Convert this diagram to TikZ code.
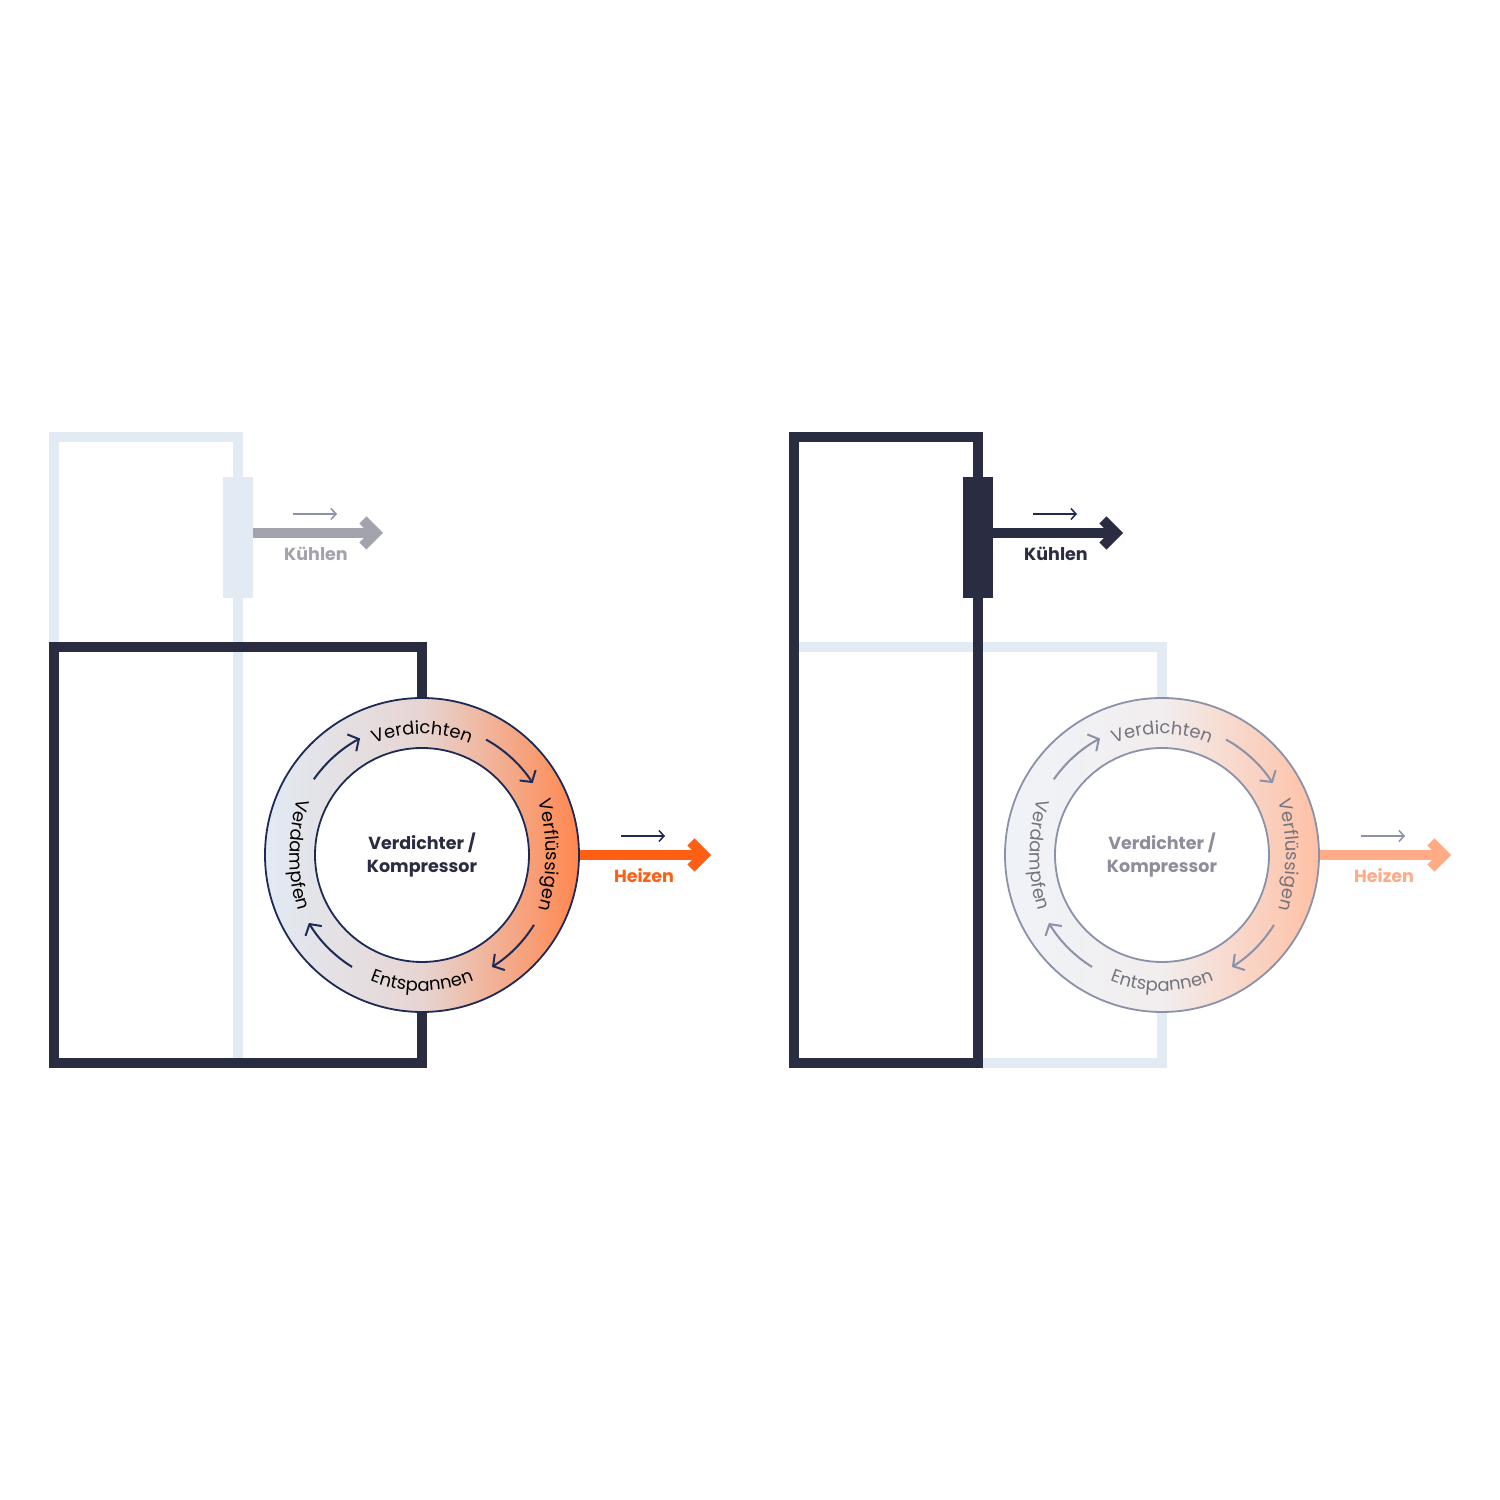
\documentclass[tikz,border=0pt]{standalone}
\usepackage{fontspec}
\setmainfont{Poppins}
\usepackage{xcolor}
\usetikzlibrary{arrows.meta}
\usetikzlibrary{decorations.text}

\definecolor{navy}{HTML}{2A2D42}
\definecolor{pale}{HTML}{E2EAF3}
\definecolor{ink}{HTML}{1E2A55}
\definecolor{heat}{HTML}{FF5F14}
\definecolor{heatpale}{HTML}{FFAB86}
\definecolor{coolgray}{HTML}{A3A3AE}
\definecolor{ashgray}{HTML}{8A91A8}
\definecolor{ashtext}{HTML}{74747F}
\definecolor{coretext}{HTML}{8E8E9A}

\newcommand{\ringfont}{\fontsize{18}{20}\selectfont}
\newcommand{\labelfont}{\fontsize{17.5}{23}\selectfont\bfseries}

\tikzset{
  pipe/.style={line width=10pt},
  hxbox/.style={rectangle, inner sep=0pt, minimum width=30pt, minimum height=121pt},
  ringbody/.style={circle, inner sep=0pt, minimum size=314pt, line width=1.8pt},
  core/.style={circle, inner sep=0pt, minimum size=214pt, fill=white, line width=1.8pt, font=\labelfont, align=center},
  bigarrow/.style={line width=10pt, -{Straight Barb[length=13pt,width=26pt,sharp]}},
  flow/.style={line width=1.5pt, -{Straight Barb[length=5pt,width=11pt]}},
  ringflow/.style={line width=2pt, -{Straight Barb[length=8pt,width=19pt]}},
  caption/.style={font=\labelfont},
}

\begin{document}
\begin{tikzpicture}[x=1pt, y=1pt]
    \fill[white] (0,0) rectangle (1500,1500);
    \useasboundingbox (0,0) rectangle (1500,1500);

    % heating mode
    \draw[pipe, pale] (54,437) rectangle (238,1063);
    \draw[pipe, navy] (54,437) rectangle (422,853);
    \node[hxbox, fill=pale] (hxA) at (238,962.5) {};

    \node[ringbody, draw=ink, left color=pale, right color=heat!75, middle color=heat!15!pale] (ringA) at (422,645) {};
    \node[core, draw=ink, text=navy] (coreA) at (ringA) {Verdichter /\\Kompressor};

    \path[decorate, decoration={text along path, text align=center, text color=black, text={|\ringfont|Verdichten}}]
        ([shift={(118:121)}]ringA.center) arc[start angle=118, end angle=62, radius=121];
    \path[decorate, decoration={text along path, text align=center, text color=black, text={|\ringfont|Verflüssigen}}]
        ([shift={(-76,0)}]ringA.center) ++(22:200) arc[start angle=22, end angle=-22, radius=200];
    \path[decorate, decoration={text along path, text align=center, text color=black, text={|\ringfont|Entspannen}}]
        ([shift={(235:136)}]ringA.center) arc[start angle=235, end angle=305, radius=136];
    \path[decorate, decoration={text along path, text align=center, text color=black, text={|\ringfont|Verdampfen}}]
        ([shift={(68,0)}]ringA.center) ++(158:200) arc[start angle=158, end angle=202, radius=200];

    \draw[ringflow, ink] ([shift={(145:132)}]ringA.center) arc[start angle=145, end angle=118, radius=132];
    \draw[ringflow, ink] ([shift={(61:132)}]ringA.center) arc[start angle=61, end angle=33, radius=132];
    \draw[ringflow, ink] ([shift={(-32:132)}]ringA.center) arc[start angle=-32, end angle=-58, radius=132];
    \draw[ringflow, ink] ([shift={(238:132)}]ringA.center) arc[start angle=238, end angle=211, radius=132];

    \coordinate (coolendA) at (383,967);
    \coordinate (heatendA) at (711,645);
    \draw[bigarrow, coolgray] (hxA.east |- coolendA) -- (coolendA);
    \draw[bigarrow, heat] (ringA.east) -- (heatendA);
    \coordinate (flowA1) at (293,986);
    \coordinate (flowA2) at (337,986);
    \coordinate (flowA3) at (621,664);
    \coordinate (flowA4) at (665,664);
    \draw[flow, ashgray] (flowA1) -- (flowA2);
    \draw[flow, ink] (flowA3) -- (flowA4);
    \node[caption, text=coolgray] (coolA) at (316,946) {Kühlen};
    \node[caption, text=heat] (heatA) at (644,624) {Heizen};

    % cooling mode
    \begin{scope}[xshift=740pt]
        \draw[pipe, pale] (54,437) rectangle (422,853);
        \draw[pipe, navy] (54,437) rectangle (238,1063);
        \node[hxbox, fill=navy] (hxB) at (238,962.5) {};

        \node[ringbody, draw=ashgray, left color=pale!55, right color=heatpale!75, middle color=heatpale!18!pale!55] (ringB) at (422,645) {};
        \node[core, draw=ashgray, text=coretext] (coreB) at (ringB) {Verdichter /\\Kompressor};

        \path[decorate, decoration={text along path, text align=center, text color=ashtext, text={|\ringfont|Verdichten}}]
            ([shift={(118:121)}]ringB.center) arc[start angle=118, end angle=62, radius=121];
        \path[decorate, decoration={text along path, text align=center, text color=ashtext, text={|\ringfont|Verflüssigen}}]
            ([shift={(-76,0)}]ringB.center) ++(22:200) arc[start angle=22, end angle=-22, radius=200];
        \path[decorate, decoration={text along path, text align=center, text color=ashtext, text={|\ringfont|Entspannen}}]
            ([shift={(235:136)}]ringB.center) arc[start angle=235, end angle=305, radius=136];
        \path[decorate, decoration={text along path, text align=center, text color=ashtext, text={|\ringfont|Verdampfen}}]
            ([shift={(68,0)}]ringB.center) ++(158:200) arc[start angle=158, end angle=202, radius=200];

        \draw[ringflow, ashgray] ([shift={(145:132)}]ringB.center) arc[start angle=145, end angle=118, radius=132];
        \draw[ringflow, ashgray] ([shift={(61:132)}]ringB.center) arc[start angle=61, end angle=33, radius=132];
        \draw[ringflow, ashgray] ([shift={(-32:132)}]ringB.center) arc[start angle=-32, end angle=-58, radius=132];
        \draw[ringflow, ashgray] ([shift={(238:132)}]ringB.center) arc[start angle=238, end angle=211, radius=132];

        \coordinate (coolendB) at (383,967);
        \coordinate (heatendB) at (711,645);
        \draw[bigarrow, navy] (hxB.east |- coolendB) -- (coolendB);
        \draw[bigarrow, heatpale] (ringB.east) -- (heatendB);
        \coordinate (flowB1) at (293,986);
        \coordinate (flowB2) at (337,986);
        \coordinate (flowB3) at (621,664);
        \coordinate (flowB4) at (665,664);
        \draw[flow, ink] (flowB1) -- (flowB2);
        \draw[flow, ashgray] (flowB3) -- (flowB4);
        \node[caption, text=navy] (coolB) at (316,946) {Kühlen};
        \node[caption, text=heatpale] (heatB) at (644,624) {Heizen};
    \end{scope}
\end{tikzpicture}
\end{document}
